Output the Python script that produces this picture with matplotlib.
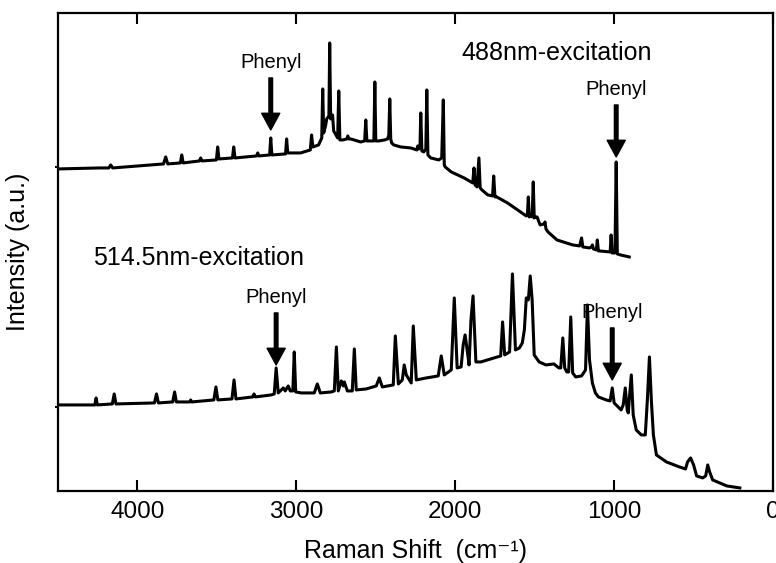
import numpy as np
import matplotlib
matplotlib.use("Agg")
import matplotlib.pyplot as plt

plt.rcParams['font.family'] = ['Liberation Sans', 'DejaVu Sans']

# 488 nm excitation spectrum (Raman shift cm-1, intensity a.u.)
shift_488 = [4500, 4240, 4180, 4168, 4156, 4000, 3836, 3822, 3809, 3730, 3721, 3712,
             3610, 3602, 3594, 3503, 3495, 3487, 3402, 3394, 3386, 3250, 3243, 3236,
             3168, 3161, 3154, 3068, 3061, 3054, 2973, 2912, 2904, 2896, 2860, 2840,
             2834, 2828, 2815, 2809, 2795, 2790, 2784, 2772, 2765, 2740, 2733, 2726,
             2708, 2682, 2676, 2670, 2658, 2595, 2570, 2563, 2556, 2512, 2506, 2500,
             2481, 2445, 2425, 2418, 2412, 2406, 2400, 2387, 2343, 2280, 2242, 2236,
             2228, 2222, 2217, 2210, 2198, 2185, 2179, 2172, 2154, 2104, 2085, 2075,
             2069, 2063, 2025, 1944, 1901, 1890, 1882, 1875, 1863, 1851, 1843, 1832,
             1795, 1765, 1758, 1750, 1739, 1671, 1590, 1553, 1546, 1540, 1534, 1528,
             1516, 1509, 1503, 1490, 1485, 1466, 1441, 1435, 1429, 1416, 1360, 1261,
             1217, 1205, 1197, 1155, 1143, 1137, 1130, 1112, 1106, 1099, 1093, 1031,
             1025, 1019, 1013, 995, 987, 980, 960, 905]
int_488 = [322, 323, 323, 326, 323, 325, 327, 334, 327, 328, 336, 328,
           330, 333, 330, 331, 344, 332, 333, 344, 333, 335, 338, 335,
           336, 353, 336, 337, 352, 338, 338, 341, 356, 344, 346, 353,
           402, 358, 366, 372, 375, 448, 372, 376, 360, 353, 400, 351,
           351, 352, 355, 352, 352, 349, 350, 371, 350, 350, 409, 350,
           350, 351, 352, 356, 392, 352, 348, 346, 344, 343, 341, 345,
           342, 343, 378, 340, 339, 342, 401, 336, 333, 331, 333, 391,
           326, 324, 319, 313, 309, 308, 323, 306, 304, 333, 303, 301,
           296, 295, 315, 294, 294, 288, 279, 275, 276, 294, 274, 276,
           274, 309, 273, 274, 274, 266, 267, 269, 262, 259, 251, 246,
           245, 253, 244, 243, 244, 246, 242, 241, 251, 240, 240, 239,
           239, 256, 238, 238, 329, 237, 236, 234]

# 514.5 nm excitation spectrum
shift_514 = [4500, 4290, 4268, 4260, 4252, 4158, 4146, 4135, 3893, 3880, 3868, 3778,
             3766, 3755, 3670, 3665, 3658, 3519, 3506, 3494, 3405, 3392, 3380, 3275,
             3266, 3258, 3158, 3139, 3127, 3114, 3095, 3082, 3070, 3051, 3038, 3022,
             3013, 3004, 2969, 2887, 2868, 2849, 2780, 2761, 2748, 2736, 2717, 2704,
             2698, 2679, 2648, 2635, 2623, 2560, 2497, 2478, 2459, 2390, 2377, 2358,
             2333, 2321, 2308, 2289, 2277, 2264, 2245, 2182, 2107, 2088, 2069, 2025,
             2006, 1988, 1963, 1950, 1938, 1925, 1913, 1901, 1888, 1870, 1839, 1776,
             1714, 1702, 1689, 1658, 1640, 1621, 1596, 1578, 1565, 1553, 1540, 1528,
             1516, 1503, 1472, 1429, 1379, 1348, 1336, 1323, 1311, 1298, 1286, 1273,
             1261, 1242, 1205, 1180, 1168, 1155, 1137, 1118, 1099, 1050, 1025, 1012,
             1000, 956, 943, 930, 918, 911, 905, 892, 880, 861, 829, 804,
             791, 778, 766, 753, 734, 671, 589, 551, 538, 519, 500, 481,
             443, 424, 411, 399, 380, 291, 209]
int_514 = [86, 86, 86, 93, 86, 87, 97, 87, 88, 97, 88, 89,
           99, 89, 89, 91, 89, 91, 104, 91, 92, 111, 92, 94,
           97, 94, 96, 97, 123, 98, 101, 103, 100, 105, 100, 100,
           139, 99, 98, 98, 107, 98, 99, 100, 144, 100, 110, 105,
           109, 100, 100, 142, 101, 102, 105, 113, 104, 106, 155, 107,
           111, 126, 116, 111, 108, 165, 111, 113, 115, 135, 116, 121,
           193, 123, 124, 146, 156, 141, 126, 171, 195, 129, 129, 132,
           135, 169, 136, 139, 217, 141, 143, 148, 161, 193, 191, 215,
           191, 136, 129, 126, 127, 123, 123, 153, 123, 119, 119, 174,
           118, 114, 115, 121, 186, 131, 108, 98, 94, 91, 90, 103,
           88, 81, 86, 103, 81, 78, 91, 116, 76, 61, 56, 56,
           91, 134, 91, 56, 36, 29, 24, 22, 29, 33, 26, 15,
           13, 15, 26, 19, 11, 5, 3]

# phenyl markers: (shift, intensity at arrow tip)
phenyl_shift = [3161, 987, 3127, 1012]
phenyl_tip = [361, 334, 126, 111]

fig = plt.figure(figsize=(7.76, 5.63), dpi=100)
ax = fig.add_axes([0.0747, 0.128, 0.9215, 0.849])

ax.plot(shift_488, int_488, color='black', lw=2.2, solid_joinstyle='round')
ax.plot(shift_514, int_514, color='black', lw=2.2, solid_joinstyle='round')

for x, tip in zip(phenyl_shift, phenyl_tip):
    ax.annotate('', xy=(x, tip), xytext=(x, tip + 52),
                arrowprops=dict(facecolor='black', edgecolor='black', width=2.6,
                                headwidth=13, headlength=12, shrink=0))
    ax.text(x, tip + 67, 'Phenyl', ha='center', va='center', fontsize=14.5)

ax.text(1360, 438, '488nm-excitation', ha='center', va='center', fontsize=18)
ax.text(3617, 233, '514.5nm-excitation', ha='center', va='center', fontsize=18)

ax.set_xlim(4500, 0)
ax.set_ylim(0, 478)
ax.set_xticks([4000, 3000, 2000, 1000, 0])
ax.set_yticks([324, 84])
ax.set_yticklabels([])
ax.tick_params(axis='x', direction='in', top=True, length=8, width=1.5,
               labelsize=17.5, pad=7)
ax.tick_params(axis='y', direction='out', length=2.5, width=1.5)
for s in ax.spines.values():
    s.set_linewidth(1.6)

ax.set_xlabel('Raman Shift  (cm\u207b\u00b9)', fontsize=18, labelpad=12)
ax.set_ylabel('Intensity (a.u.)', fontsize=18, labelpad=14)

fig.savefig('out.png', dpi=100)
